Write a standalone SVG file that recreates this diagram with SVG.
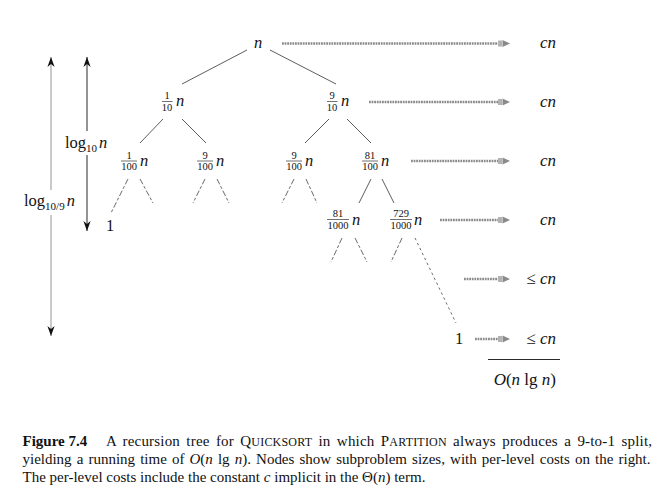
<svg xmlns="http://www.w3.org/2000/svg" width="663" height="498" viewBox="0 0 663 498">
<style>
  text { font-family: "Liberation Serif", "Times New Roman", serif; fill: #111; }
  .it { font-style: italic; }
  .nv { font-size: 16.5px; font-style: italic; }
  .fr { font-size: 10.5px; }
  .cost { font-size: 17px; font-style: italic; }
  .leaf { font-size: 16.5px; }
  .edge { stroke: #333; stroke-width: 0.8; fill: none; }
  .dash { stroke: #444; stroke-width: 0.8; fill: none; stroke-dasharray: 6 2 3 2; }
  .dot { stroke: #444; stroke-width: 0.8; fill: none; stroke-dasharray: 2.5 3; }
  .bar { stroke: #111; stroke-width: 0.6; }
  .lvl { stroke: #8a8a8a; stroke-width: 2.6; fill: none; stroke-dasharray: 1.8 0.8; marker-end: url(#lh); }
  .cap { font-size: 15px; }
</style>
<defs>
  <marker id="lh" markerUnits="userSpaceOnUse" markerWidth="14" markerHeight="10" refX="0" refY="5" orient="auto" viewBox="0 0 14 10">
    <path d="M1,2 V8 M3,2 V8" stroke="#666" stroke-width="1"/>
    <path d="M4.5,1.6 L12,5 L4.5,8.4 Z" fill="#8a8a8a"/>
  </marker>
  <marker id="ah" markerUnits="userSpaceOnUse" markerWidth="11" markerHeight="9" refX="0" refY="0" orient="auto-start-reverse" viewBox="-10 -4.5 11 9" overflow="visible">
    <path d="M0,0 L-10,-3.6 L-7,0 L-10,3.6 Z" fill="#111"/>
  </marker>
</defs>

<g id="connectors">
  <line class="edge" x1="247" y1="50" x2="182" y2="84"/>
  <line class="edge" x1="270" y1="50" x2="336" y2="84"/>
  <line class="edge" x1="163" y1="119" x2="140" y2="143"/>
  <line class="edge" x1="182" y1="119" x2="206" y2="143"/>
  <line class="edge" x1="329" y1="119" x2="305" y2="143"/>
  <line class="edge" x1="347" y1="119" x2="371" y2="143"/>
  <line class="dash" x1="128" y1="179" x2="111" y2="213"/>
  <line class="dash" x1="140" y1="179" x2="153" y2="203"/>
  <line class="dash" x1="205" y1="179" x2="193" y2="203"/>
  <line class="dash" x1="217" y1="179" x2="229" y2="203"/>
  <line class="dash" x1="294" y1="179" x2="282" y2="203"/>
  <line class="dash" x1="306" y1="179" x2="317" y2="203"/>
  <line class="edge" x1="371" y1="179" x2="359" y2="203"/>
  <line class="edge" x1="382" y1="179" x2="394" y2="203"/>
  <line class="dash" x1="342" y1="238" x2="331" y2="262"/>
  <line class="dash" x1="355" y1="238" x2="367" y2="262"/>
  <line class="dash" x1="402" y1="238" x2="391" y2="262"/>
  <line class="dot" x1="415" y1="238" x2="456" y2="323"/>
  <!-- per-level cost arrows -->
  <line class="lvl" x1="282" y1="43.5" x2="498" y2="43.5"/>
  <line class="lvl" x1="369" y1="102" x2="498" y2="102"/>
  <line class="lvl" x1="411" y1="161" x2="498" y2="161"/>
  <line class="lvl" x1="440" y1="220" x2="498" y2="220"/>
  <line class="lvl" x1="464" y1="279" x2="498" y2="279"/>
  <line class="lvl" x1="475" y1="339" x2="498" y2="339"/>
  <!-- height arrows -->
  <line x1="87" y1="57" x2="87" y2="131" stroke="#111" stroke-width="0.9" marker-start="url(#ah)"/>
  <line x1="87" y1="155" x2="87" y2="231" stroke="#111" stroke-width="0.9" marker-end="url(#ah)"/>
  <line x1="51" y1="57" x2="51" y2="190" stroke="#888" stroke-width="0.9" marker-start="url(#ah)"/>
  <line x1="51" y1="215" x2="51" y2="336" stroke="#888" stroke-width="0.9" marker-end="url(#ah)"/>
  <!-- sum rule -->
  <line x1="488" y1="359.5" x2="560" y2="359.5" stroke="#111" stroke-width="0.9"/>
</g>

<g id="label-log10">
  <text x="65" y="148" font-size="16.5">log<tspan font-size="11" dy="4">10</tspan><tspan class="it" dx="2" dy="-4">n</tspan></text>
</g>
<g id="label-log109">
  <text x="24" y="206" font-size="16.5">log<tspan font-size="11" dy="4">10/9</tspan><tspan class="it" dx="2" dy="-4">n</tspan></text>
</g>

<g id="node-root"><text class="nv" x="258" y="48" text-anchor="middle">n</text></g>

<g id="node-1-10">
  <text class="fr" x="167" y="99" text-anchor="middle">1</text>
  <line class="bar" x1="162" y1="101.5" x2="172.5" y2="101.5"/>
  <text class="fr" x="167" y="110.5" text-anchor="middle">10</text>
  <text class="nv" x="176" y="106">n</text>
</g>
<g id="node-9-10">
  <text class="fr" x="332" y="99" text-anchor="middle">9</text>
  <line class="bar" x1="327" y1="101.5" x2="337.5" y2="101.5"/>
  <text class="fr" x="332" y="110.5" text-anchor="middle">10</text>
  <text class="nv" x="341" y="106">n</text>
</g>

<g id="node-1-100">
  <text class="fr" x="129" y="158.5" text-anchor="middle">1</text>
  <line class="bar" x1="121" y1="161" x2="137" y2="161"/>
  <text class="fr" x="129" y="170" text-anchor="middle">100</text>
  <text class="nv" x="140" y="165.5">n</text>
</g>
<g id="node-9-100-a">
  <text class="fr" x="205" y="158.5" text-anchor="middle">9</text>
  <line class="bar" x1="197" y1="161" x2="213" y2="161"/>
  <text class="fr" x="205" y="170" text-anchor="middle">100</text>
  <text class="nv" x="216" y="165.5">n</text>
</g>
<g id="node-9-100-b">
  <text class="fr" x="294" y="158.5" text-anchor="middle">9</text>
  <line class="bar" x1="286" y1="161" x2="302" y2="161"/>
  <text class="fr" x="294" y="170" text-anchor="middle">100</text>
  <text class="nv" x="305" y="165.5">n</text>
</g>
<g id="node-81-100">
  <text class="fr" x="370" y="158.5" text-anchor="middle">81</text>
  <line class="bar" x1="362" y1="161" x2="378" y2="161"/>
  <text class="fr" x="370" y="170" text-anchor="middle">100</text>
  <text class="nv" x="381" y="165.5">n</text>
</g>

<g id="node-81-1000">
  <text class="fr" x="338" y="217" text-anchor="middle">81</text>
  <line class="bar" x1="327" y1="219.5" x2="349" y2="219.5"/>
  <text class="fr" x="338" y="228.5" text-anchor="middle">1000</text>
  <text class="nv" x="352" y="224.5">n</text>
</g>
<g id="node-729-1000">
  <text class="fr" x="401" y="217" text-anchor="middle">729</text>
  <line class="bar" x1="390" y1="219.5" x2="412" y2="219.5"/>
  <text class="fr" x="401" y="228.5" text-anchor="middle">1000</text>
  <text class="nv" x="414" y="224.5">n</text>
</g>

<g id="leaf-left"><text class="leaf" x="110" y="231" text-anchor="middle">1</text></g>
<g id="leaf-right"><text class="leaf" x="459" y="343.5" text-anchor="middle">1</text></g>

<g id="costs">
  <text class="cost" x="556" y="48" text-anchor="end">cn</text>
  <text class="cost" x="556" y="107" text-anchor="end">cn</text>
  <text class="cost" x="556" y="166" text-anchor="end">cn</text>
  <text class="cost" x="556" y="225" text-anchor="end">cn</text>
  <text x="556" y="284" text-anchor="end" font-size="17"><tspan>≤ </tspan><tspan class="it">cn</tspan></text>
  <text x="556" y="344" text-anchor="end" font-size="17"><tspan>≤ </tspan><tspan class="it">cn</tspan></text>
  <text x="556" y="385" text-anchor="end" font-size="17"><tspan class="it">O</tspan>(<tspan class="it">n</tspan> lg <tspan class="it">n</tspan>)</text>
</g>

<g id="caption">
  <text class="cap" x="22.5" y="446" font-weight="bold">Figure 7.4</text>
  <text class="cap" x="106" y="446" word-spacing="2.4" textLength="546" lengthAdjust="spacing">A recursion tree for Q<tspan font-size="12">UICKSORT</tspan> in which P<tspan font-size="12">ARTITION</tspan> always produces a 9-to-1 split,</text>
  <text class="cap" x="22.5" y="464" word-spacing="1.4" textLength="628" lengthAdjust="spacing">yielding a running time of <tspan class="it">O</tspan>(<tspan class="it">n</tspan> lg <tspan class="it">n</tspan>). Nodes show subproblem sizes, with per-level costs on the right.</text>
  <text class="cap" x="22.5" y="482">The per-level costs include the constant <tspan class="it">c</tspan> implicit in the Θ(<tspan class="it">n</tspan>) term.</text>
</g>
</svg>
